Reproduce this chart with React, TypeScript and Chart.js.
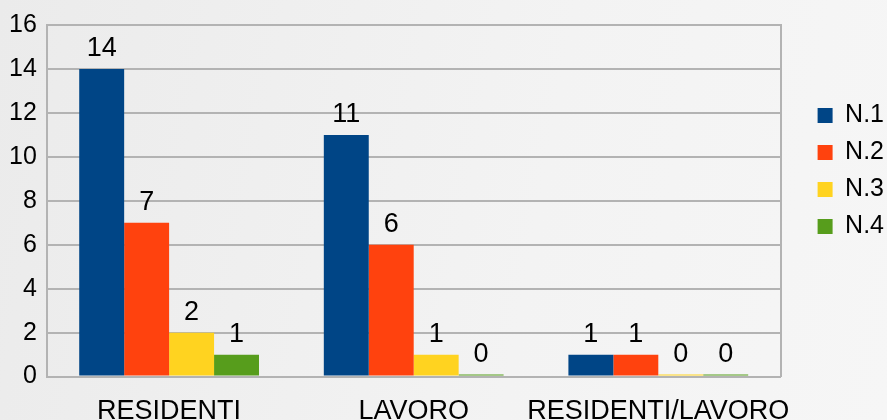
import React, { useEffect, useRef } from "react";
import { Chart, registerables } from "chart.js";

Chart.register(...registerables);

const categories = ["RESIDENTI", "LAVORO", "RESIDENTI/LAVORO"];
const seriesNames = ["N.1", "N.2", "N.3", "N.4"];
const n1 = [14, 11, 1];
const n2 = [7, 6, 1];
const n3 = [2, 1, 0];
const n4 = [1, 0, 0];
const colors = ["#004586", "#ff420e", "#ffd320", "#579d1c"];
const yMax = 16;
const yStep = 2;

const FONT = "'Liberation Sans', Arial, sans-serif";

const valueLabels = {
  id: "valueLabels",
  afterDatasetsDraw(chart: any) {
    const ctx = chart.ctx;
    ctx.save();
    ctx.fillStyle = "#000";
    ctx.font = `27px ${FONT}`;
    ctx.textAlign = "center";
    ctx.textBaseline = "bottom";
    chart.data.datasets.forEach((ds: any, i: number) => {
      const meta = chart.getDatasetMeta(i);
      meta.data.forEach((bar: any, j: number) => {
        const v = ds.data[j];
        ctx.fillText(String(v), bar.x, bar.y - 7);
      });
    });
    ctx.restore();
  },
};

export default function App() {
  const ref = useRef<HTMLCanvasElement>(null);
  useEffect(() => {
    document.body.style.margin = "0";
    const data = [n1, n2, n3, n4];
    const chart = new Chart(ref.current!, {
      type: "bar",
      data: {
        labels: categories,
        datasets: seriesNames.map((name, i) => ({
          label: name,
          data: data[i],
          backgroundColor: colors[i],
          borderWidth: 0,
          minBarLength: 2,
          categoryPercentage: 0.735,
          barPercentage: 1.0,
        })),
      },
      options: {
        animation: false,
        responsive: false,
        layout: { padding: { top: -4, right: -7, left: -1, bottom: -27 } },
        plugins: {
          legend: {
            position: "right",
            align: "start",
            title: { display: true, text: " ", font: { size: 10 }, padding: { top: 83, bottom: 0 } },
            labels: {
              boxWidth: 15,
              boxHeight: 15,
              padding: 12,
              color: "#000",
              font: { size: 25, family: FONT },
            },
          },
          tooltip: { enabled: false },
        },
        scales: {
          x: {
            grid: { display: false, drawTicks: false, tickLength: 0 },
            border: { display: true, color: "#b3b3b3", width: 2 },
            ticks: {
              color: "#000",
              font: { size: 27, family: FONT },
              padding: 19,
              maxRotation: 0,
              minRotation: 0,
              autoSkip: false,
            },
          },
          y: {
            min: 0,
            max: yMax,
            ticks: { stepSize: yStep, color: "#000", font: { size: 25, family: FONT }, padding: 10 },
            grid: { color: "#b3b3b3", lineWidth: 2, tickLength: 0 },
            border: { display: true, color: "#b3b3b3", width: 2 },
          },
          y2: {
            position: "right",
            min: 0,
            max: yMax,
            ticks: { display: false },
            grid: { drawOnChartArea: false, drawTicks: true, tickLength: 25, tickColor: "rgba(0,0,0,0)" },
            border: { display: true, color: "#b3b3b3", width: 2 },
          },
        },
      },
      plugins: [valueLabels],
    });
    return () => chart.destroy();
  }, []);
  return (
    <div
      style={{
        width: 887,
        height: 420,
        background: "linear-gradient(100deg, #ebebeb 0%, #f3f3f3 60%, #f6f6f6 100%)",
      }}
    >
      <canvas ref={ref} width={887} height={420} style={{ display: "block" }} />
    </div>
  );
}
